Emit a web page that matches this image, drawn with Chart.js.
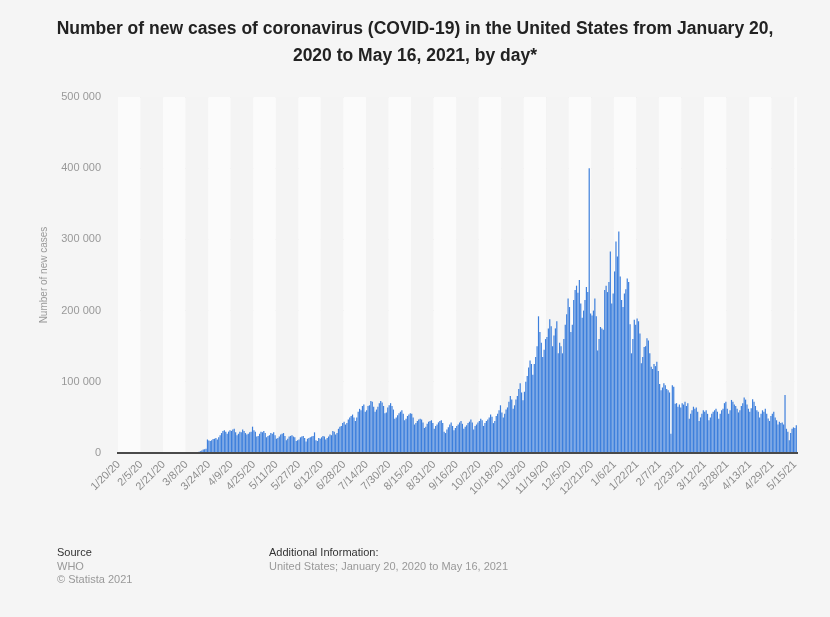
<!DOCTYPE html>
<html><head><meta charset="utf-8">
<script src="https://cdn.jsdelivr.net/npm/chart.js@4/dist/chart.umd.min.js"></script>
<style>
html,body{margin:0;padding:0;background:#f5f5f5;width:830px;height:617px;overflow:hidden;font-family:"Liberation Sans",Arial,sans-serif}
#wrap{position:relative;width:830px;height:617px}
#c{position:absolute;left:0;top:0}
.title{position:absolute;left:0;top:15px;width:830px;text-align:center;font-weight:bold;font-size:17.5px;line-height:27px;color:#222}
.ft{position:absolute;font-size:11px;line-height:13.5px;color:#999}
.ft b{font-weight:normal;color:#333}
</style></head><body>
<div id="wrap">
<canvas id="c" width="830" height="617"></canvas>
<div class="title">Number of new cases of coronavirus (COVID-19) in the United States from January 20,<br>2020 to May 16, 2021, by day*</div>
<div class="ft" style="left:57px;top:546px"><b>Source</b><br>WHO<br>© Statista 2021</div>
<div class="ft" style="left:269px;top:546px"><b>Additional Information:</b><br>United States; January 20, 2020 to May 16, 2021</div>
</div>
<script>
const tickLabels = ["1/20/20","2/5/20","2/21/20","3/8/20","3/24/20","4/9/20","4/25/20","5/11/20","5/27/20","6/12/20","6/28/20","7/14/20","7/30/20","8/15/20","8/31/20","9/16/20","10/2/20","10/18/20","11/3/20","11/19/20","12/5/20","12/21/20","1/6/21","1/22/21","2/7/21","2/23/21","3/12/21","3/28/21","4/13/21","4/29/21","5/15/21"];

const casesEarly2020 = [
1,0,0,0,0,1,0, 0,0,0,1,0,0,0, 1,0,0,0,0,0,0, 0,0,0,0,0,0,0,
0,1,0,0,0,0,0, 0,0,0,0,0,0,3, 12,20,30,40,60,90,120, 160,200,260,300,450,700,900,
1200,1600,2500,3500,4800,5300,6000];
const casesSpring2020 = [
19000,17500,17000,18000,19500,20000,21000, 19000,22000,25000,28000,31000,32000,30000,
27000,30000,32000,31000,33000,34000,29000, 25000,27000,30000,29000,33000,31000,28000,
26000,27000,29000,30000,37000,32000,30000, 23000,24000,27000,30000,29000,31000,28000,
22000,24000,25000,28000,27000,29000,25000, 20000,21000,23000,26000,27000,28000,24000,
18000,20000,23000,24000,25000,23000,22000, 17000,18000,19000,22000,23000,24000,21000,
16000,20000,21000,22000,23000,24000,29000, 18000,17000,21000,20000,22000,24000,23000,
19000,21000,23000,26000,25000,31000,30000];
const casesSummer2020 = [
26000,28000,34000,37000,38000,42000,44000, 40000,42000,47000,50000,52000,54000,50000,
45000,50000,58000,62000,60000,66000,68000, 58000,60000,66000,67000,73000,72000,65000,
58000,61000,65000,70000,73000,71000,66000, 56000,57000,64000,67000,70000,66000,61000,
48000,50000,53000,56000,58000,60000,55000, 46000,48000,52000,54000,56000,55000,50000,
40000,42000,45000,47000,48000,47000,43000, 35000,37000,41000,44000,45000,46000,42000,
34000,38000,40000,43000,45000,46000,42000, 30000,28000,33000,36000,40000,43000,38000,
32000,35000,38000,40000,43000,45000,41000, 34000,37000,39000,42000,44000,47000,43000];
const casesAutumn2020 = [
33000,38000,40000,43000,45000,48000,46000, 38000,42000,45000,47000,50000,54000,51000,
42000,45000,52000,55000,60000,67000,57000, 50000,55000,61000,64000,72000,80000,75000,
62000,67000,75000,80000,90000,98000,85000, 74000,86000,100000,108000,120000,130000,125000,
110000,125000,135000,150000,192000,170000,155000, 135000,145000,160000,163000,175000,188000,178000,
150000,165000,175000,185000,140000,155000,150000];
const casesWinter2021 = [
140000,160000,180000,195000,217000,205000,170000, 180000,215000,229000,235000,225000,243000,210000,
190000,200000,215000,233000,226000,400000,196000, 193000,200000,217000,192000,144000,160000,177000,
175000,173000,229000,235000,226000,240000,283000, 210000,224000,255000,297000,276000,311000,248000,
215000,205000,224000,230000,245000,240000,181000, 140000,160000,187000,180000,189000,185000,168000,
126000,135000,149000,150000,161000,158000,140000, 121000,118000,125000,122000,128000,115000,97000,
88000,92000,98000,95000,90000,88000,85000, 27000,95000,93000,69000,70000,65000,68000];
const casesSpring2021 = [
64000,70000,68000,72000,66000,70000,48000, 55000,60000,65000,62000,64000,58000,45000,
50000,55000,60000,58000,60000,55000,46000, 50000,55000,58000,60000,62000,58000,48000,
55000,60000,62000,70000,72000,62000,55000, 60000,74500,72000,68000,66000,62000,57000,
60000,66000,70000,78000,75000,68000,62000, 58000,63000,75500,72000,66000,60000,58000,
50000,55000,60000,58000,62000,55000,48600, 45000,52000,55000,58000,50000,46000,40000,
44000,42000,43000,40000,81600,34000,30000, 18000,28000,34000,36000,35000,39000];

const newCases = [].concat(casesEarly2020, casesSpring2020, casesSummer2020, casesAutumn2020, casesWinter2021, casesSpring2021);
const categories = newCases.map((_, i) => 'Day ' + (i + 1));
const tickStep = 16;

const bandPlugin = {
  id: 'bands',
  beforeDatasetsDraw(chart) {
    const {ctx, chartArea: a, scales: {x}} = chart;
    const half = (x.getPixelForValue(1) - x.getPixelForValue(0)) / 2;
    ctx.save();
    for (let k = 0; k * tickStep < categories.length; k++) {
      const s = x.getPixelForValue(k * tickStep) - half;
      const eIdx = Math.min((k + 1) * tickStep, categories.length);
      const e = eIdx >= categories.length ? a.right : x.getPixelForValue(eIdx) - half;
      ctx.fillStyle = k % 2 === 0 ? '#fbfbfb' : '#f4f4f4';
      ctx.fillRect(s, a.top, e - s, a.bottom - a.top);
    }
    ctx.restore();
  }
};

new Chart(document.getElementById('c'), {
  type: 'bar',
  data: {
    labels: categories,
    datasets: [{
      data: newCases,
      backgroundColor: '#3d7fdc',
      barPercentage: 0.85,
      categoryPercentage: 1
    }]
  },
  plugins: [bandPlugin],
  options: {
    responsive: false,
    animation: false,
    events: [],
    layout: {padding: {top: 97, right: 33, left: 0, bottom: 0}},
    plugins: {legend: {display: false}, tooltip: {enabled: false}, title: {display: false}},
    scales: {
      x: {
        grid: {display: false, drawTicks: false},
        border: {display: true, color: '#4a4a4a', width: 2, z: 1},
        ticks: {
          autoSkip: false, maxRotation: 45, minRotation: 45, padding: 5,
          color: '#8c8c8c', font: {family: '"Liberation Sans", Arial, sans-serif', size: 11},
          callback: (v, i) => (i % tickStep === 0 ? tickLabels[i / tickStep] : null)
        },
        afterFit: s => { s.height = 164; }
      },
      y: {
        min: 0, max: 500000,
        grid: {color: '#e2e2e2', drawTicks: false},
        border: {display: false},
        ticks: {
          stepSize: 100000, padding: 17, color: '#999',
          font: {family: '"Liberation Sans", Arial, sans-serif', size: 11},
          callback: v => String(v).replace(/\B(?=(\d{3})+(?!\d))/g, ' ')
        },
        title: {display: true, text: 'Number of new cases', color: '#999',
          font: {family: '"Liberation Sans", Arial, sans-serif', size: 10}, padding: {top: 38}},
        afterFit: s => { s.width = 118; }
      }
    }
  }
});
</script>
</body></html>
